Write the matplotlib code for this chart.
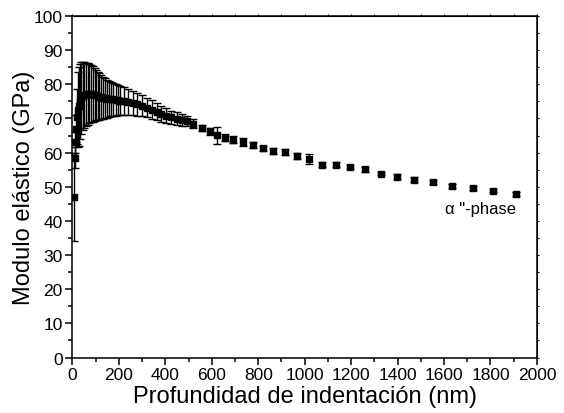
import matplotlib
matplotlib.use("Agg")
import matplotlib.pyplot as plt
from matplotlib.ticker import MultipleLocator

plt.rcParams["font.family"] = ["Liberation Sans", "DejaVu Sans"]

# indentation depth (nm), elastic modulus (GPa) and standard deviation (GPa)
depth = [6, 10, 13, 16, 20, 24, 29, 33, 38, 44, 51, 58, 65, 73, 81, 88, 95,
         102, 109, 116, 124, 132, 140, 149, 158, 167, 176, 186, 196, 206,
         220, 240, 260, 280, 300, 320, 341, 362, 383, 404, 426, 448, 470,
         492, 520, 556, 592, 621, 657, 692, 735, 776, 819, 865, 915, 965,
         1020, 1073, 1133, 1195, 1259, 1328, 1396, 1472, 1551, 1633, 1723,
         1812, 1908]
modulus = [47.0, 58.5, 63.0, 67.0, 70.5, 72.5, 73.5, 75.0, 76.0, 76.5, 76.8,
           77.0, 77.2, 77.3, 77.3, 77.2, 77.0, 76.8, 76.6, 76.4, 76.2, 76.0,
           75.9, 75.8, 75.7, 75.7, 75.6, 75.5, 75.4, 75.2, 75.0, 74.7, 74.4,
           74.1, 73.7, 73.2, 72.6, 72.0, 71.3, 70.8, 70.3, 69.9, 69.5, 69.2,
           68.5, 67.2, 66.2, 65.1, 64.3, 63.8, 63.1, 62.3, 61.2, 60.5, 60.2,
           59.0, 58.2, 56.5, 56.5, 55.8, 55.1, 53.8, 52.9, 52.1, 51.4, 50.2,
           49.6, 48.9, 47.9]
std = [13.0, 3.0, 3.0, 4.0, 8.0, 11.0, 11.5, 11.0, 10.5, 10.0, 9.7, 9.3, 9.0,
       8.7, 8.4, 8.1, 7.7, 7.4, 7.1, 6.8, 6.5, 6.2, 5.9, 5.6, 5.3, 5.1, 4.9,
       4.7, 4.5, 4.3, 4.1, 3.8, 3.5, 3.3, 3.1, 2.9, 2.7, 2.5, 2.3, 2.2, 2.0,
       1.9, 1.8, 1.5, 1.2, 1.0, 1.0, 2.5, 1.0, 1.0, 1.1, 0.9, 0.6, 0.8, 0.8,
       0.8, 1.5, 0.8, 0.8, 0.7, 0.7, 0.5, 0.7, 0.7, 0.5, 0.7, 0.6, 0.5, 0.5]

fig = plt.figure(figsize=(5.64, 4.14), dpi=100)
ax = fig.add_axes([0.1285, 0.134, 0.8235, 0.825])

ax.errorbar(depth, modulus, yerr=std, fmt="s", color="black", ms=5,
            elinewidth=1.0, capsize=3, capthick=1.0)

ax.set_xlim(0, 2000)
ax.set_ylim(0, 100)
ax.xaxis.set_major_locator(MultipleLocator(200))
ax.xaxis.set_minor_locator(MultipleLocator(100))
ax.yaxis.set_major_locator(MultipleLocator(10))
ax.yaxis.set_minor_locator(MultipleLocator(5))
ax.tick_params(which="major", direction="out", length=5, width=1.1,
               labelsize=12.5, pad=2)
ax.tick_params(which="minor", direction="out", length=3, width=1.1)

# short ticks on the top and right frame
top = ax.secondary_xaxis("top")
top.xaxis.set_major_locator(MultipleLocator(100))
top.tick_params(direction="out", length=1.5, labeltop=False)
right = ax.secondary_yaxis("right")
right.yaxis.set_major_locator(MultipleLocator(5))
right.tick_params(direction="out", length=1.5, labelright=False)

for s in ax.spines.values():
    s.set_linewidth(1.1)

ax.set_xlabel("Profundidad de indentación (nm)", fontsize=17, labelpad=2)
ax.set_ylabel("Modulo elástico (GPa)", fontsize=17, labelpad=-1)

ax.text(1910, 43.5, "α \"-phase", fontsize=12, ha="right", va="center")

fig.savefig("out.png", dpi=100)
